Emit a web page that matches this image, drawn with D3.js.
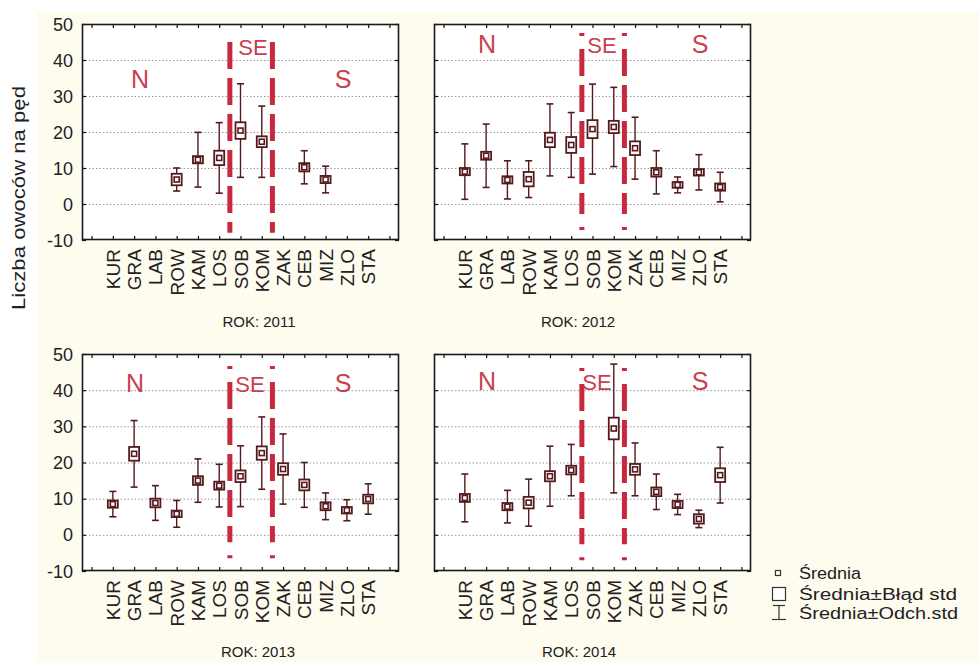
<!DOCTYPE html>
<html><head><meta charset="utf-8">
<script src="https://cdn.jsdelivr.net/npm/d3@7"></script>
<style>body{margin:0;background:#fff}svg{display:block}text{font-family:"Liberation Sans",Arial,sans-serif}</style>
</head><body><svg id="c" width="979" height="662"></svg>
<script>
const categories = ["KUR","GRA","LAB","ROW","KAM","LOS","SOB","KOM","ZAK","CEB","MIZ","ZLO","STA"];
const years = [2011, 2012, 2013, 2014];
const yTicks = [-10, 0, 10, 20, 30, 40, 50];
const gridValues = [0, 10, 20, 30, 40];
const regions = ["N", "SE", "S"];

const mean2011 = [null,null,null,6.8,12.3,12.8,20.4,17.3,null,10.2,6.8,null,null];
const se2011   = [null,null,null,1.6,1.0,2.0,2.3,1.5,null,1.15,1.0,null,null];
const sd2011   = [null,null,null,3.2,7.6,9.8,13.0,9.9,null,4.6,3.7,null,null];

const mean2012 = [9.0,13.4,6.7,6.9,17.8,16.4,20.8,21.4,15.5,8.8,5.3,8.8,4.7];
const se2012   = [1.0,1.1,1.0,2.0,2.0,2.2,2.5,1.7,1.9,1.2,0.8,0.9,1.0];
const sd2012   = [7.7,8.8,5.3,5.1,10.0,9.0,12.5,11.0,8.6,6.0,2.2,4.9,4.1];

const mean2013 = [8.5,22.4,8.8,5.8,15.0,13.6,16.2,22.6,18.2,13.8,7.9,6.8,9.9];
const se2013   = [1.0,1.9,1.2,0.9,1.2,1.1,1.6,1.85,1.6,1.5,1.1,0.9,1.2];
const sd2013   = [3.5,9.2,4.8,3.7,6.0,5.9,8.4,10.0,9.7,6.2,3.7,2.9,4.2];

const mean2014 = [10.2,null,7.8,8.9,16.2,17.9,null,29.4,18.1,11.9,8.4,4.4,16.5];
const se2014   = [1.1,null,1.0,1.6,1.4,1.2,null,3.0,1.5,1.2,1.0,1.3,1.9];
const sd2014   = [6.6,null,4.5,6.5,8.3,7.1,null,17.8,7.3,4.9,2.8,2.4,7.7];

const legendLabels = ["Średnia", "Średnia±Błąd std", "Średnia±Odch.std"];
const yTitle = "Liczba owoców na pęd";

const seriesByYear = {
  2011: {mean: mean2011, se: se2011, sd: sd2011},
  2012: {mean: mean2012, se: se2012, sd: sd2012},
  2013: {mean: mean2013, se: se2013, sd: sd2013},
  2014: {mean: mean2014, se: se2014, sd: sd2014}
};

// layout
const panels = [
  {year:2011, x0:82,  x1:399, y0:24,  y1:240, yLabels:true,  rokX:259, rokY:327, lineTop:45, lineBot:-8, plain:true,
   reg:[{x:140,y:88,s:25},{x:253,y:55,s:22},{x:343,y:88,s:25}]},
  {year:2012, x0:434, x1:751, y0:24,  y1:240, yLabels:false, rokX:578, rokY:327, lineTop:47.5, lineBot:-7.2, plain:false,
   reg:[{x:487,y:53,s:25},{x:602,y:53,s:22},{x:700,y:53,s:25}]},
  {year:2013, x0:82,  x1:399, y0:354, y1:571, yLabels:true,  rokX:258, rokY:657, lineTop:46.7, lineBot:-6.5, plain:false,
   reg:[{x:135,y:392,s:25},{x:250,y:392,s:22},{x:343,y:392,s:25}]},
  {year:2014, x0:434, x1:751, y0:354, y1:571, yLabels:false, rokX:579, rokY:657, lineTop:46.1, lineBot:-7, plain:false,
   reg:[{x:487,y:390,s:25},{x:597,y:390,s:22},{x:700,y:390,s:25}]}
];

const svg = d3.select("#c");
const markColor = "#551a1d";
const red = "#c7283d";

// cream background
svg.append("rect").attr("x",37).attr("y",12).attr("width",979-37).attr("height",662-12).attr("fill","#fefbef");

panels.forEach(p => {
  const d = seriesByYear[p.year];
  const x = d3.scaleLinear().domain([-0.45, 14.45]).range([p.x0, p.x1]);
  const y = d3.scaleLinear().domain([-10, 50]).range([p.y1, p.y0]);
  const g = svg.append("g");
  g.append("rect").attr("x",p.x0).attr("y",p.y0).attr("width",p.x1-p.x0).attr("height",p.y1-p.y0).attr("fill","#fff");
  // grid
  g.selectAll(".grid").data(gridValues).join("line")
    .attr("x1",p.x0).attr("x2",p.x1).attr("y1",v=>y(v)+0.5).attr("y2",v=>y(v)+0.5)
    .attr("stroke","#9a9a9a").attr("stroke-width",1).attr("stroke-dasharray","1.5,2");
  // inward ticks
  const tickIdx = d3.range(0, 15);
  const axB = d3.axisBottom(x).tickValues(tickIdx).tickSize(-4).tickFormat("");
  const axT = d3.axisTop(x).tickValues(tickIdx).tickSize(-4).tickFormat("");
  const axL = d3.axisLeft(y).tickValues(yTicks).tickSize(-4).tickFormat("");
  const axR = d3.axisRight(y).tickValues(yTicks).tickSize(-4).tickFormat("");
  [[axB,`translate(0,${p.y1})`],[axT,`translate(0,${p.y0})`],[axL,`translate(${p.x0},0)`],[axR,`translate(${p.x1},0)`]].forEach(([ax,t])=>{
    const a = g.append("g").attr("transform",t).call(ax);
    a.select(".domain").remove();
    a.selectAll("line").attr("stroke","#111").attr("stroke-width",1.2);
  });
  // frame
  g.append("rect").attr("x",p.x0+0.5).attr("y",p.y0+0.5).attr("width",p.x1-p.x0-1).attr("height",p.y1-p.y0-1)
    .attr("fill","none").attr("stroke","#1a1a1a").attr("stroke-width",1.6);
  // y labels
  if (p.yLabels) {
    g.selectAll(".yl").data(yTicks).join("text")
      .attr("x",p.x0-9).attr("y",v=>y(v)+6.5).attr("text-anchor","end")
      .attr("font-size",18).attr("fill","#222").text(v=>v);
  }
  // x labels
  g.selectAll(".xl").data(categories).join("text")
    .attr("transform",(c,i)=>`translate(${x(i+1)+7},${p.y1+9}) rotate(-90)`)
    .attr("text-anchor","end").attr("font-size",19).attr("fill","#222").text(c=>c);
  // ROK label
  g.append("text").attr("x",p.rokX).attr("y",p.rokY).attr("text-anchor","middle")
    .attr("font-size",15).attr("fill","#222").text("ROK: "+p.year);
  // dashed region lines
  const len = y(p.lineBot) - y(p.lineTop);
  const D = 27;
  const lastDash = Math.max(4, len - (3+13+4*D+4*9+13+3));
  const dash = p.plain ? "27,9" : [3,13,D,9,D,9,D,9,D,9,lastDash,13,3,60].join(",");
  [6.5, 8.5].forEach(b => {
    g.append("line").attr("x1",x(b)).attr("x2",x(b)).attr("y1",y(p.lineTop)).attr("y2",y(p.lineBot))
      .attr("stroke",red).attr("stroke-width",5).attr("stroke-dasharray",dash);
  });
  // region labels
  p.reg.forEach((r,i)=>{
    g.append("text").attr("x",r.x).attr("y",r.y).attr("text-anchor","middle")
      .attr("font-family","Lato, 'Open Sans', sans-serif").attr("font-size",r.s)
      .attr("fill","#c9404f").text(regions[i]);
  });
  // marks
  const items = categories.map((c,i)=>({i, m:d.mean[i], se:d.se[i], sd:d.sd[i]})).filter(o=>o.m!=null);
  const mg = g.selectAll(".mk").data(items).join("g");
  mg.append("line").attr("x1",o=>x(o.i+1)).attr("x2",o=>x(o.i+1))
    .attr("y1",o=>y(o.m+o.sd)).attr("y2",o=>y(o.m-o.sd)).attr("stroke",markColor).attr("stroke-width",1.4);
  mg.append("line").attr("x1",o=>x(o.i+1)-3.5).attr("x2",o=>x(o.i+1)+3.5)
    .attr("y1",o=>y(o.m+o.sd)).attr("y2",o=>y(o.m+o.sd)).attr("stroke",markColor).attr("stroke-width",1.6);
  mg.append("line").attr("x1",o=>x(o.i+1)-3.5).attr("x2",o=>x(o.i+1)+3.5)
    .attr("y1",o=>y(o.m-o.sd)).attr("y2",o=>y(o.m-o.sd)).attr("stroke",markColor).attr("stroke-width",1.6);
  mg.append("rect").attr("x",o=>x(o.i+1)-5).attr("width",10)
    .attr("y",o=>y(o.m+o.se)).attr("height",o=>y(o.m-o.se)-y(o.m+o.se))
    .attr("fill","#fff").attr("stroke",markColor).attr("stroke-width",1.8);
  mg.append("rect").attr("x",o=>x(o.i+1)-2.5).attr("width",5)
    .attr("y",o=>y(o.m)-2.5).attr("height",5)
    .attr("fill","#fff").attr("stroke",markColor).attr("stroke-width",1.6);
});

// y title
svg.append("text").attr("transform","translate(25,198) rotate(-90)").attr("text-anchor","middle")
  .attr("font-size",18).attr("fill","#222").attr("textLength",224).attr("lengthAdjust","spacingAndGlyphs").text(yTitle);

// legend
const lg = svg.append("g");
lg.append("rect").attr("x",775.5).attr("y",570.5).attr("width",5).attr("height",5).attr("fill","#fff").attr("stroke","#333").attr("stroke-width",1.2);
lg.append("rect").attr("x",772.5).attr("y",587.5).attr("width",13).attr("height",13).attr("fill","#fff").attr("stroke","#333").attr("stroke-width",1.2);
lg.append("line").attr("x1",779).attr("x2",779).attr("y1",605).attr("y2",620).attr("stroke","#333").attr("stroke-width",1.2);
lg.append("line").attr("x1",773).attr("x2",785).attr("y1",605.5).attr("y2",605.5).attr("stroke","#333").attr("stroke-width",1.2);
lg.append("line").attr("x1",772).attr("x2",786).attr("y1",619.5).attr("y2",619.5).attr("stroke","#333").attr("stroke-width",1.2);
const lgLen = [62, 158, 159];
const lgY = [579, 600, 619];
lg.selectAll(".lt").data(legendLabels).join("text")
  .attr("x",799).attr("y",(t,i)=>lgY[i]).attr("font-size",16).attr("fill","#222")
  .attr("textLength",(t,i)=>lgLen[i]).attr("lengthAdjust","spacingAndGlyphs").text(t=>t);
</script></body></html>
